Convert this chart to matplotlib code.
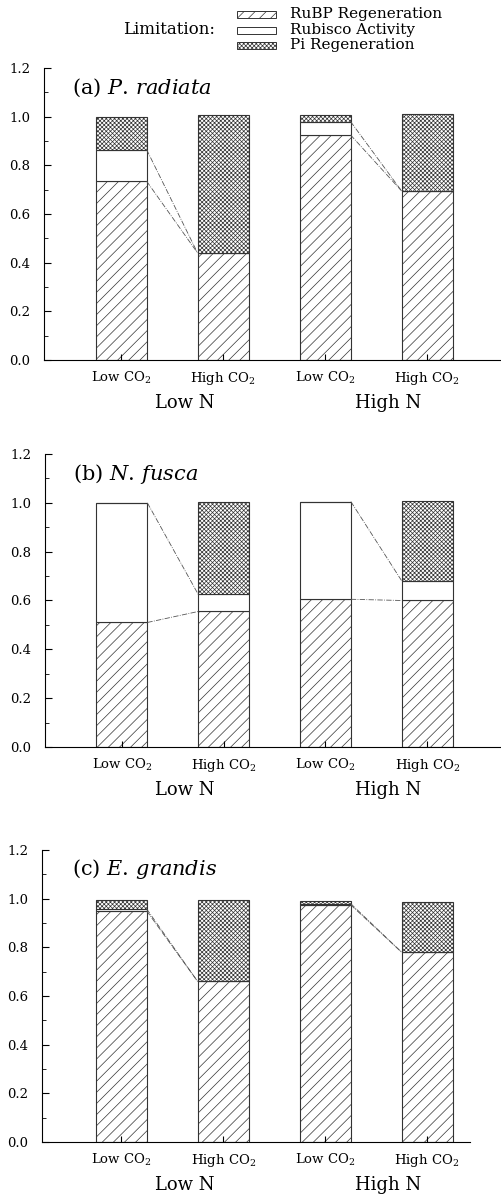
import matplotlib.pyplot as plt
import matplotlib.patches as mpatches
from matplotlib.ticker import MultipleLocator
import numpy as np

plt.rcParams['font.family'] = ['DejaVu Serif']
plt.rcParams['mathtext.fontset'] = 'dejavuserif'
plt.rcParams['hatch.linewidth'] = 0.5

# %% data: fraction of photosynthesis limited by each process
treatments = ['Low CO$_2$', 'High CO$_2$', 'Low CO$_2$', 'High CO$_2$']
groups = ['Low N', 'High N']
titles = ['(a) $\\mathit{P.\\,radiata}$', '(b) $\\mathit{N.\\,fusca}$', '(c) $\\mathit{E.\\,grandis}$']

rubp = [[0.735, 0.44, 0.925, 0.695],
        [0.51, 0.555, 0.605, 0.60],
        [0.95, 0.66, 0.975, 0.78]]
rubisco = [[0.13, 0.0, 0.055, 0.0],
           [0.49, 0.07, 0.40, 0.08],
           [0.008, 0.0, 0.005, 0.0]]
pi_regen = [[0.135, 0.565, 0.028, 0.315],
            [0.0, 0.38, 0.0, 0.328],
            [0.037, 0.335, 0.01, 0.205]]

# %%
fig = plt.figure(figsize=(5.01, 11.98), dpi=100)
axes_pos = [[0.088, 0.6995, 0.912, 0.2437],
            [0.090, 0.3765, 0.910, 0.2445],
            [0.084, 0.0467, 0.854, 0.2438]]
xlims = [(-0.755, 3.725), (-0.755, 3.725), (-0.775, 3.42)]

x = np.arange(4)
w = 0.5
for k in range(3):
    ax = fig.add_axes(axes_pos[k])
    r = np.array(rubp[k])
    b = np.array(rubisco[k])
    p = np.array(pi_regen[k])
    ax.bar(x, r, w, color='white', edgecolor='#333333', hatch='///', linewidth=0.8)
    ax.bar(x, b, w, bottom=r, color='white', edgecolor='#333333', linewidth=0.8)
    ax.bar(x, p, w, bottom=r + b, color='white', edgecolor='#333333', hatch='xxxxxxxx', linewidth=0.8)

    # dash-dot connectors from low CO2 to high CO2
    for i in [0, 2]:
        for lev in [r, r + b]:
            ax.plot([x[i] + w / 2, x[i + 1] - w / 2], [lev[i], lev[i + 1]],
                    ls='-.', lw=0.6, color='#555555')

    ax.set_xlim(*xlims[k])
    ax.set_ylim(0, 1.2)
    ax.yaxis.set_major_locator(MultipleLocator(0.2))
    ax.yaxis.set_minor_locator(MultipleLocator(0.1))
    ax.set_yticks(np.arange(0, 1.21, 0.2), ['%.1f' % v for v in np.arange(0, 1.21, 0.2)])
    ax.set_xticks(x, treatments)
    ax.tick_params(axis='y', direction='in', length=5, labelsize=9.5, pad=10)
    ax.tick_params(axis='y', which='minor', direction='in', length=3)
    ax.tick_params(axis='x', direction='in', length=4, labelsize=9.5, pad=7)
    ax.spines['top'].set_visible(False)
    ax.spines['right'].set_visible(False)
    for g, xc in zip(groups, [0.62, 2.62]):
        ax.text(xc, -0.177, g, ha='center', va='center', fontsize=13, clip_on=False)
    ax.text(-0.48, 1.12, titles[k], ha='left', va='center', fontsize=15)

# %% legend
labels = ['RuBP Regeneration', 'Rubisco Activity', 'Pi Regeneration']
hatches = ['///', '', 'xxxxxxxx']
ys = [1 - 14 / 1198, 1 - 30 / 1198, 1 - 45 / 1198]
for lab, h, yy in zip(labels, hatches, ys):
    fig.add_artist(mpatches.Rectangle((237 / 501, yy - 3.5 / 1198), 39 / 501, 7 / 1198,
                                      transform=fig.transFigure, facecolor='white',
                                      edgecolor='#333333', hatch=h, linewidth=0.7))
    fig.text(290 / 501, yy, lab, ha='left', va='center', fontsize=11)
fig.text(215 / 501, ys[1], 'Limitation:', ha='right', va='center', fontsize=12)

fig.savefig('out.png', dpi=100)
